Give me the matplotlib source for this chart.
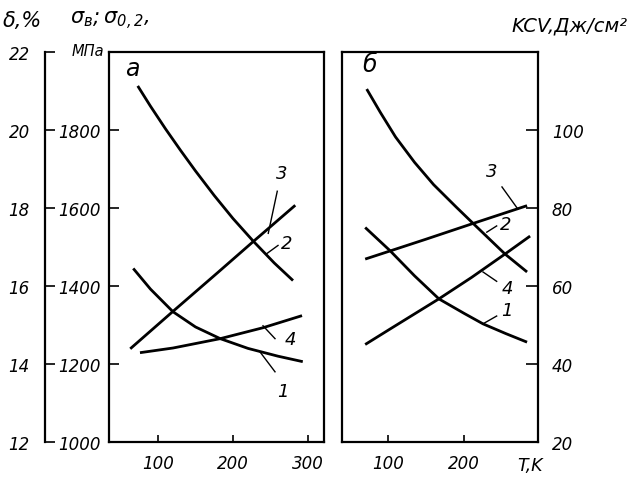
import matplotlib
matplotlib.use("Agg")
import matplotlib.pyplot as plt

# ---------------- data ----------------
# panel "а" (values in MPa on the shared sigma scale)
T_a1 = [67, 90, 120, 150, 183, 220, 260, 293]
v_a1 = [1445, 1392, 1334, 1295, 1265, 1240, 1220, 1206]
T_a2 = [73, 90, 110, 130, 150, 175, 200, 227, 255, 280]
v_a2 = [1913, 1861, 1803, 1748, 1695, 1632, 1573, 1515, 1459, 1414]
T_a3 = [63, 120, 180, 227, 283]
v_a3 = [1239, 1335, 1435, 1514, 1607]
T_a4 = [76, 120, 183, 240, 292]
v_a4 = [1229, 1241, 1265, 1293, 1324]

# panel "б" (values on the KCV scale)
T_b1 = [70, 103, 135, 167, 200, 225, 255, 283]
v_b1 = [75, 69, 62.6, 56.7, 53, 50.3, 47.8, 45.6]
T_b2 = [72, 90, 110, 135, 160, 190, 216, 254, 283]
v_b2 = [110.5, 104.5, 98.2, 91.7, 86, 80.2, 75.3, 68.2, 63.6]
T_b3 = [70, 103, 150, 216, 283]
v_b3 = [66.9, 69.0, 72.0, 76.3, 80.6]
T_b4 = [70, 103, 167, 210, 254, 287]
v_b4 = [45, 49, 56.7, 62.2, 68.2, 72.8]

sigma_ticks = [1000, 1200, 1400, 1600, 1800]
delta_ticks = [12, 14, 16, 18, 20, 22]
kcv_ticks = [20, 40, 60, 80, 100]
xticks_a = [100, 200, 300]
xticks_b = [100, 200]

# ---------------- style ----------------
FONT = dict(family="DejaVu Sans", style="italic")
plt.rcParams["font.family"] = "DejaVu Sans"
plt.rcParams["font.style"] = "italic"
plt.rcParams["mathtext.fontset"] = "dejavusans"

LW = 2.0
SP = 1.6

fig = plt.figure(figsize=(6.32, 4.81), dpi=100)
ax1 = fig.add_axes([109/632, 1-443/481, 215/632, 390/481])
ax2 = fig.add_axes([342/632, 1-443/481, 196/632, 390/481])

for ax in (ax1, ax2):
    for s in ax.spines.values():
        s.set_linewidth(SP)

# ---- panel a ----
ax1.set_xlim(34.7, 321.3)
ax1.set_ylim(1000, 2000)
for T, v in ((T_a1, v_a1), (T_a2, v_a2), (T_a3, v_a3), (T_a4, v_a4)):
    ax1.plot(T, v, color="black", lw=LW, solid_capstyle="butt")
ax1.set_xticks(xticks_a)
ax1.set_xticklabels([str(t) for t in xticks_a], fontsize=12, **FONT)
ax1.set_yticks(sigma_ticks)
ax1.set_yticklabels([str(t) for t in sigma_ticks], fontsize=12, **FONT)
ax1.tick_params(axis="x", direction="in", length=5, width=1.2, pad=9)
ax1.tick_params(axis="y", direction="in", length=7, width=1.2, pad=6)

# delta axis (same pixel scale)
axd = ax1.twinx()
axd.set_ylim(12, 22)
axd.yaxis.set_ticks_position("left")
axd.yaxis.set_label_position("left")
axd.spines["left"].set_position(("axes", (45-109)/215))
for k in ("right", "top", "bottom"):
    axd.spines[k].set_visible(False)
axd.spines["left"].set_linewidth(SP)
axd.set_yticks(delta_ticks)
axd.set_yticklabels([str(t) for t in delta_ticks], fontsize=12, **FONT)
axd.tick_params(axis="y", direction="in", length=7, width=1.2, pad=11)

# leader lines + labels, panel a
lead_a = {"3": ((247, 1535), (259, 1643), (265, 1690)),
          "2": ((245, 1483), (260, 1504), (272, 1509)),
          "4": ((240, 1298), (256, 1265), (277, 1265)),
          "1": ((236, 1231), (256, 1180), (267, 1130))}
for lab, (p0, p1, pt) in lead_a.items():
    ax1.plot([p0[0], p1[0]], [p0[1], p1[1]], color="black", lw=1.0)
    ax1.text(pt[0], pt[1], lab, fontsize=13, ha="center", va="center", **FONT)

ax1.text(0.107, 0.958, "а", transform=ax1.transAxes, fontsize=17,
         ha="center", va="center", **FONT)

# ---- panel b ----
ax2.set_xlim(39.5, 297.4)
ax2.set_ylim(20, 120)
for T, v in ((T_b1, v_b1), (T_b2, v_b2), (T_b3, v_b3), (T_b4, v_b4)):
    ax2.plot(T, v, color="black", lw=LW, solid_capstyle="butt")
ax2.set_xticks(xticks_b)
ax2.set_xticklabels([str(t) for t in xticks_b], fontsize=12, **FONT)
ax2.yaxis.tick_right()
ax2.set_yticks(kcv_ticks)
ax2.set_yticklabels([str(t) for t in kcv_ticks], fontsize=12, **FONT)
ax2.tick_params(axis="x", direction="in", length=5, width=1.2, pad=9)
ax2.tick_params(axis="y", direction="in", length=9, width=1.2, pad=10)

lead_b = {"3": ((271, 79.7), (250, 85.4), (237, 89.5)),
          "2": ((230, 73.8), (243, 75.4), (255, 76.0)),
          "4": ((225, 63.6), (243, 61.2), (257, 59.5)),
          "1": ((225, 50.3), (243, 52.3), (257, 53.8))}
for lab, (p0, p1, pt) in lead_b.items():
    ax2.plot([p0[0], p1[0]], [p0[1], p1[1]], color="black", lw=1.0)
    ax2.text(pt[0], pt[1], lab, fontsize=13, ha="center", va="center", **FONT)

ax2.text(0.143, 0.968, "б", transform=ax2.transAxes, fontsize=17,
         ha="center", va="center", **FONT)

# ---- axis titles ----
fig.text(3/632, 1-21/481, "δ,%", fontsize=15, ha="left", va="center", **FONT)
fig.text(70/632, 1-21/481, r"$\sigma_{в};\sigma_{0,2}$,", fontsize=15,
         ha="left", va="center")
fig.text(72/632, 1-52/481, "МПа", fontsize=10.5, ha="left", va="center", **FONT)
fig.text(628/632, 1-26/481, "KCV,Дж/см²", fontsize=14, ha="right",
         va="center", **FONT)
fig.text(530/632, 1-466/481, "T,K", fontsize=12.5, ha="center", va="center", **FONT)

fig.savefig("out.png", dpi=100)
